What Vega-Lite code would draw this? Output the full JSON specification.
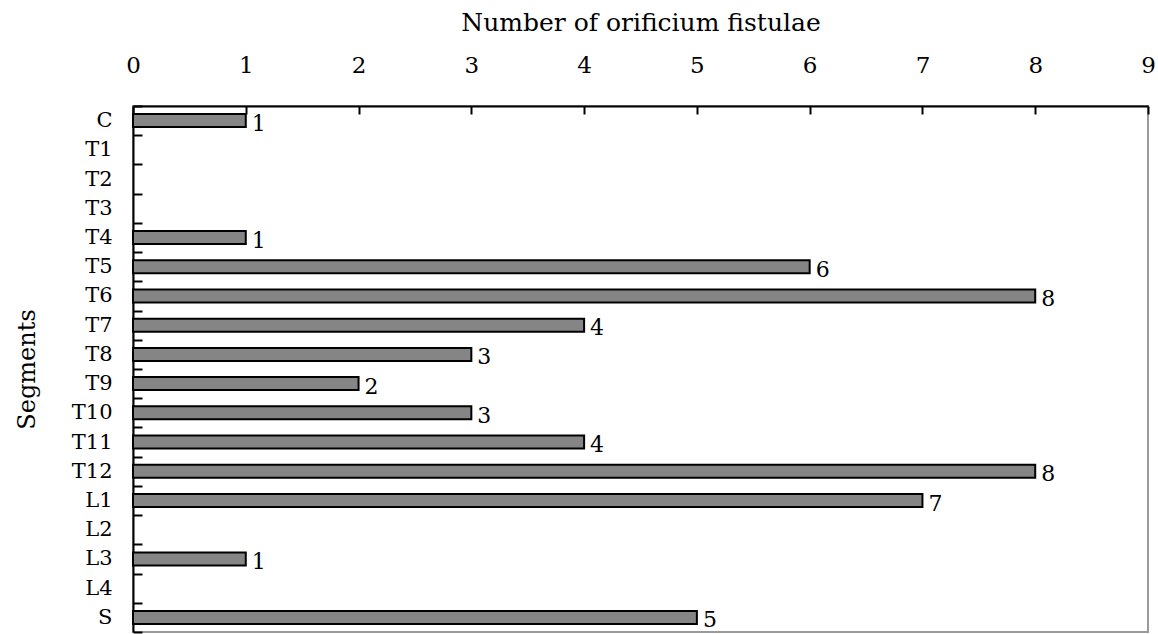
{
  "$schema": "https://vega.github.io/schema/vega-lite/v6.json",
  "autosize": {"type": "none"},
  "padding": {"left": 133, "top": 106, "right": 10, "bottom": 2},
  "width": 1015,
  "height": 526,
  "background": "white",
  "config": {
    "font": "DejaVu Serif",
    "view": {"stroke": "#9a9a9a", "strokeWidth": 2}
  },
  "data": {
    "values": [
      {"segment": "C", "count": 1},
      {"segment": "T1", "count": 0},
      {"segment": "T2", "count": 0},
      {"segment": "T3", "count": 0},
      {"segment": "T4", "count": 1},
      {"segment": "T5", "count": 6},
      {"segment": "T6", "count": 8},
      {"segment": "T7", "count": 4},
      {"segment": "T8", "count": 3},
      {"segment": "T9", "count": 2},
      {"segment": "T10", "count": 3},
      {"segment": "T11", "count": 4},
      {"segment": "T12", "count": 8},
      {"segment": "L1", "count": 7},
      {"segment": "L2", "count": 0},
      {"segment": "L3", "count": 1},
      {"segment": "L4", "count": 0},
      {"segment": "S", "count": 5}
    ]
  },
  "encoding": {
    "y": {
      "field": "segment",
      "type": "nominal",
      "sort": null,
      "scale": {
        "domain": ["C","T1","T2","T3","T4","T5","T6","T7","T8","T9","T10","T11","T12","L1","L2","L3","L4","S"],
        "paddingInner": 0,
        "paddingOuter": 0
      },
      "axis": {
        "title": "Segments",
        "titleFont": "DejaVu Serif",
        "titleFontSize": 24,
        "titleFontWeight": "normal",
        "titleColor": "black",
        "titlePadding": 32,
        "labelFont": "DejaVu Serif",
        "labelFontSize": 21,
        "labelColor": "black",
        "labelPadding": 30,
        "tickBand": "extent",
        "tickSize": -9,
        "tickWidth": 2,
        "tickColor": "black",
        "domainColor": "black",
        "domainWidth": 2
      }
    },
    "x": {
      "field": "count",
      "type": "quantitative",
      "scale": {"domain": [0, 9], "nice": false},
      "axis": {
        "orient": "top",
        "title": "Number of orificium fistulae",
        "titleFont": "DejaVu Serif",
        "titleFontSize": 25,
        "titleFontWeight": "normal",
        "titleColor": "black",
        "titlePadding": 19,
        "values": [0,1,2,3,4,5,6,7,8,9],
        "labelFont": "DejaVu Serif",
        "labelFontSize": 23,
        "labelColor": "black",
        "labelPadding": 37,
        "labelFlush": false,
        "tickSize": -8,
        "tickWidth": 2,
        "tickColor": "black",
        "domainColor": "black",
        "domainWidth": 2,
        "grid": false
      }
    }
  },
  "transform": [{"filter": "datum.count > 0"}],
  "layer": [
    {
      "mark": {"type": "bar", "size": 13, "fill": "#858585", "stroke": "black", "strokeWidth": 2}
    },
    {
      "mark": {"type": "text", "align": "left", "baseline": "middle", "dx": 6, "dy": 3, "fontSize": 22, "font": "DejaVu Serif", "color": "black"},
      "encoding": {"text": {"field": "count", "type": "quantitative"}}
    }
  ]
}
